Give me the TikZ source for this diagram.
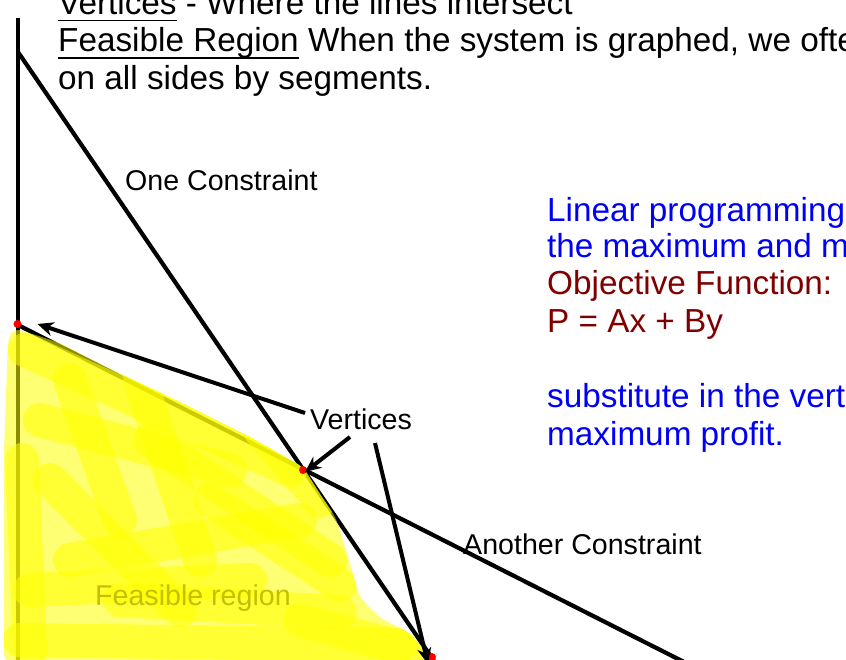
\documentclass[tikz,border=0pt]{standalone}
\usepackage{fontspec}
\setmainfont{Liberation Sans}
\usetikzlibrary{arrows.meta}
\definecolor{txtblue}{RGB}{0,0,245}
\definecolor{txtred}{RGB}{128,0,0}
\definecolor{hl}{RGB}{255,255,0}
\definecolor{hltext}{RGB}{196,192,0}
\newcommand\myul[1]{\leavevmode\setbox0\hbox{#1}\rlap{\rule[-7pt]{\wd0}{1.6pt}}\box0\relax}
\tikzset{
  big/.style={font=\fontsize{33.3}{37.5}\selectfont, inner sep=0pt, anchor=base west},
  lbl/.style={font=\fontsize{28.6}{32}\selectfont, inner sep=0pt, anchor=base west},
  cline/.style={line width=4.2pt},
  arr/.style={line width=4pt, -{Stealth[length=16pt,width=14pt]}},
  dot/.style={circle, fill=red, inner sep=0pt, minimum size=8pt},
  stroke/.style={line width=34pt, line cap=round, hl, opacity=0.55},
}
\begin{document}
\begin{tikzpicture}[x=1pt,y=-1pt]
\useasboundingbox (0,0) rectangle (846,660);
\clip (0,0) rectangle (846,660);
% top text
\node[big] (t1) at (58,14.5) {\myul{Vertices} - Where the lines intersect};
\node[big] (t2) at (58,52) {\myul{Feasible Region} When the system is graphed, we often};
\node[big] (t3) at (58,89.5) {on all sides by segments.};
% right text
\node[big, txtblue] (r1) at (547,222) {Linear programming};
\node[big, txtblue] (r2) at (547,258) {the maximum and min};
\node[big, txtred] (r3) at (547,295) {Objective Function:};
\node[big, txtred] (r4) at (547,333) {P = Ax + By};
\node[big, txtblue] (r5) at (547,407) {substitute in the verti};
\node[big, txtblue] (r6) at (547,445) {maximum profit.};
% lines
\coordinate (axT) at (18,18);
\coordinate (axB) at (18,664);
\coordinate (c1T) at (18,52);
\coordinate (c1B) at (436,664);
\coordinate (c2L) at (18,325);
\coordinate (c2R) at (688,664);
\draw[cline] (axT) -- (axB);
\draw[cline] (c1T) -- (c1B);
\draw[cline] (c2L) -- (c2R);
% labels
\node[lbl] (oc) at (125,191) {One Constraint};
\node[lbl] (vt) at (310,429) {Vertices};
\node[lbl] (ac) at (463,554) {Another Constraint};
% highlighter
\begin{scope}
\clip[rounded corners=8pt] (8,338) -- (14,328) -- (60,343) -- (100,364) -- (180,402) -- (250,437) -- (303,467)
  -- (320,494) -- (336,518) -- (349,560) -- (360,598) -- (380,618) -- (410,633) -- (434,662)
  -- (4,662) -- (4,450) -- cycle;
\fill[hl, opacity=0.55] (0,300) rectangle (450,662);
\draw[stroke] (25,350) -- (290,470);
\draw[stroke] (40,420) -- (230,470);
\draw[stroke] (22,460) -- (30,650);
\draw[stroke] (70,380) -- (120,520);
\draw[stroke] (150,440) -- (330,560);
\draw[stroke] (70,560) -- (300,520);
\draw[stroke] (20,640) -- (400,645);
\draw[stroke] (120,600) -- (340,612);
\draw[stroke] (210,500) -- (340,585);
\draw[stroke] (260,430) -- (320,500);
\draw[stroke] (50,480) -- (180,610);
\draw[stroke] (140,380) -- (200,560);
\draw[stroke] (30,590) -- (250,580);
\draw[stroke] (300,620) -- (410,650);
\end{scope}
\node[lbl, text=hltext] (fr) at (95,605) {Feasible region};
% vertices
\node[dot] (v1) at (17.5,324) {};
\node[dot] (v2) at (303,470) {};
\node[dot] (v3) at (432,657) {};
% arrows
\coordinate (a1) at (305,413);
\coordinate (a2) at (350,437);
\coordinate (a3) at (375,443);
\draw[arr] (a1) -- ([xshift=20pt]v1.center);
\draw[arr] (a2) -- ([xshift=2pt,yshift=-2pt]v2.center);
\draw[arr] (a3) -- ([xshift=-4pt,yshift=-7pt]v3.center);
\end{tikzpicture}
\end{document}
